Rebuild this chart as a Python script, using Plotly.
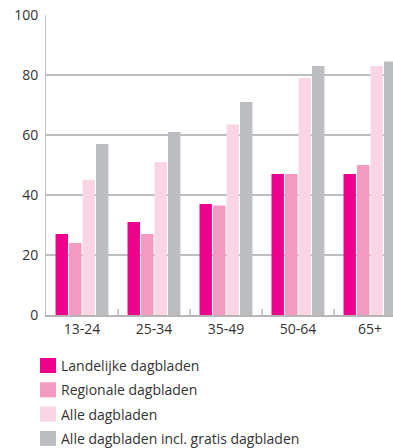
import plotly.graph_objects as go

# Age groups and reach (%) per newspaper type
categories = ["13-24", "25-34", "35-49", "50-64", "65+"]
series_names = [
    "Landelijke dagbladen",
    "Regionale dagbladen",
    "Alle dagbladen",
    "Alle dagbladen incl. gratis dagbladen",
]
landelijke = [27, 31, 37, 47, 47]
regionale = [24, 27, 36.5, 47, 50]
alle = [45, 51, 63.5, 79, 83]
alle_gratis = [57, 61, 71, 83, 84.5]
y_ticks = [0, 20, 40, 60, 80, 100]

colors = ["#EC008C", "#F49AC1", "#F9D5E5", "#BCBDC0"]
values = [landelijke, regionale, alle, alle_gratis]

font_family = "Open Sans, Noto Sans, sans-serif"
text_color = "#333333"
font_size = 14

fig = go.Figure()
for name, vals, col in zip(series_names, values, colors):
    fig.add_trace(go.Bar(
        x=categories, y=vals, name=name,
        marker=dict(color=col, line=dict(width=0)),
        showlegend=False,
    ))

# Hand-built legend below the plot
legend_top = 358
row_step = 24.3
for i, (name, col) in enumerate(zip(series_names, colors)):
    y0 = legend_top + i * row_step
    fig.add_shape(
        type="rect", xref="paper", yref="paper",
        x0=(40 - 46) / 347, x1=(56 - 46) / 347,
        y0=(448 - 133 - y0) / 300, y1=(448 - 133 - (y0 + 15)) / 300,
        line=dict(width=0), fillcolor=col,
    )
    fig.add_annotation(
        xref="paper", yref="paper",
        x=(59 - 46) / 347, y=(448 - 133 - (y0 + 7.5)) / 300,
        text=name, showarrow=False, xanchor="left", yanchor="middle",
        font=dict(family=font_family, size=font_size, color=text_color),
    )

fig.update_layout(
    width=393, height=448,
    margin=dict(l=46, r=0, t=15, b=133),
    paper_bgcolor="white", plot_bgcolor="white",
    barmode="group", bargap=0.25, bargroupgap=0.08,
    font=dict(family=font_family, size=font_size, color=text_color),
    xaxis=dict(
        range=[-0.5, 4.32],
        showline=True, linecolor="#B5B5B5", linewidth=2,
        ticks="inside", tickson="boundaries", ticklen=6,
        tickcolor="#C8C8C8", tickwidth=1.5,
        showgrid=False,
        tickfont=dict(family=font_family, size=font_size, color=text_color),
    ),
    yaxis=dict(
        range=[0, 100], tickvals=y_ticks,
        showline=True, linecolor="#C0C0C0", linewidth=1,
        showgrid=True, gridcolor="#BEBEBE", gridwidth=1.5,
        zeroline=False, ticks="",
        ticklabelstandoff=4,
        tickfont=dict(family=font_family, size=font_size, color=text_color),
    ),
)

fig.write_html("out.html")
